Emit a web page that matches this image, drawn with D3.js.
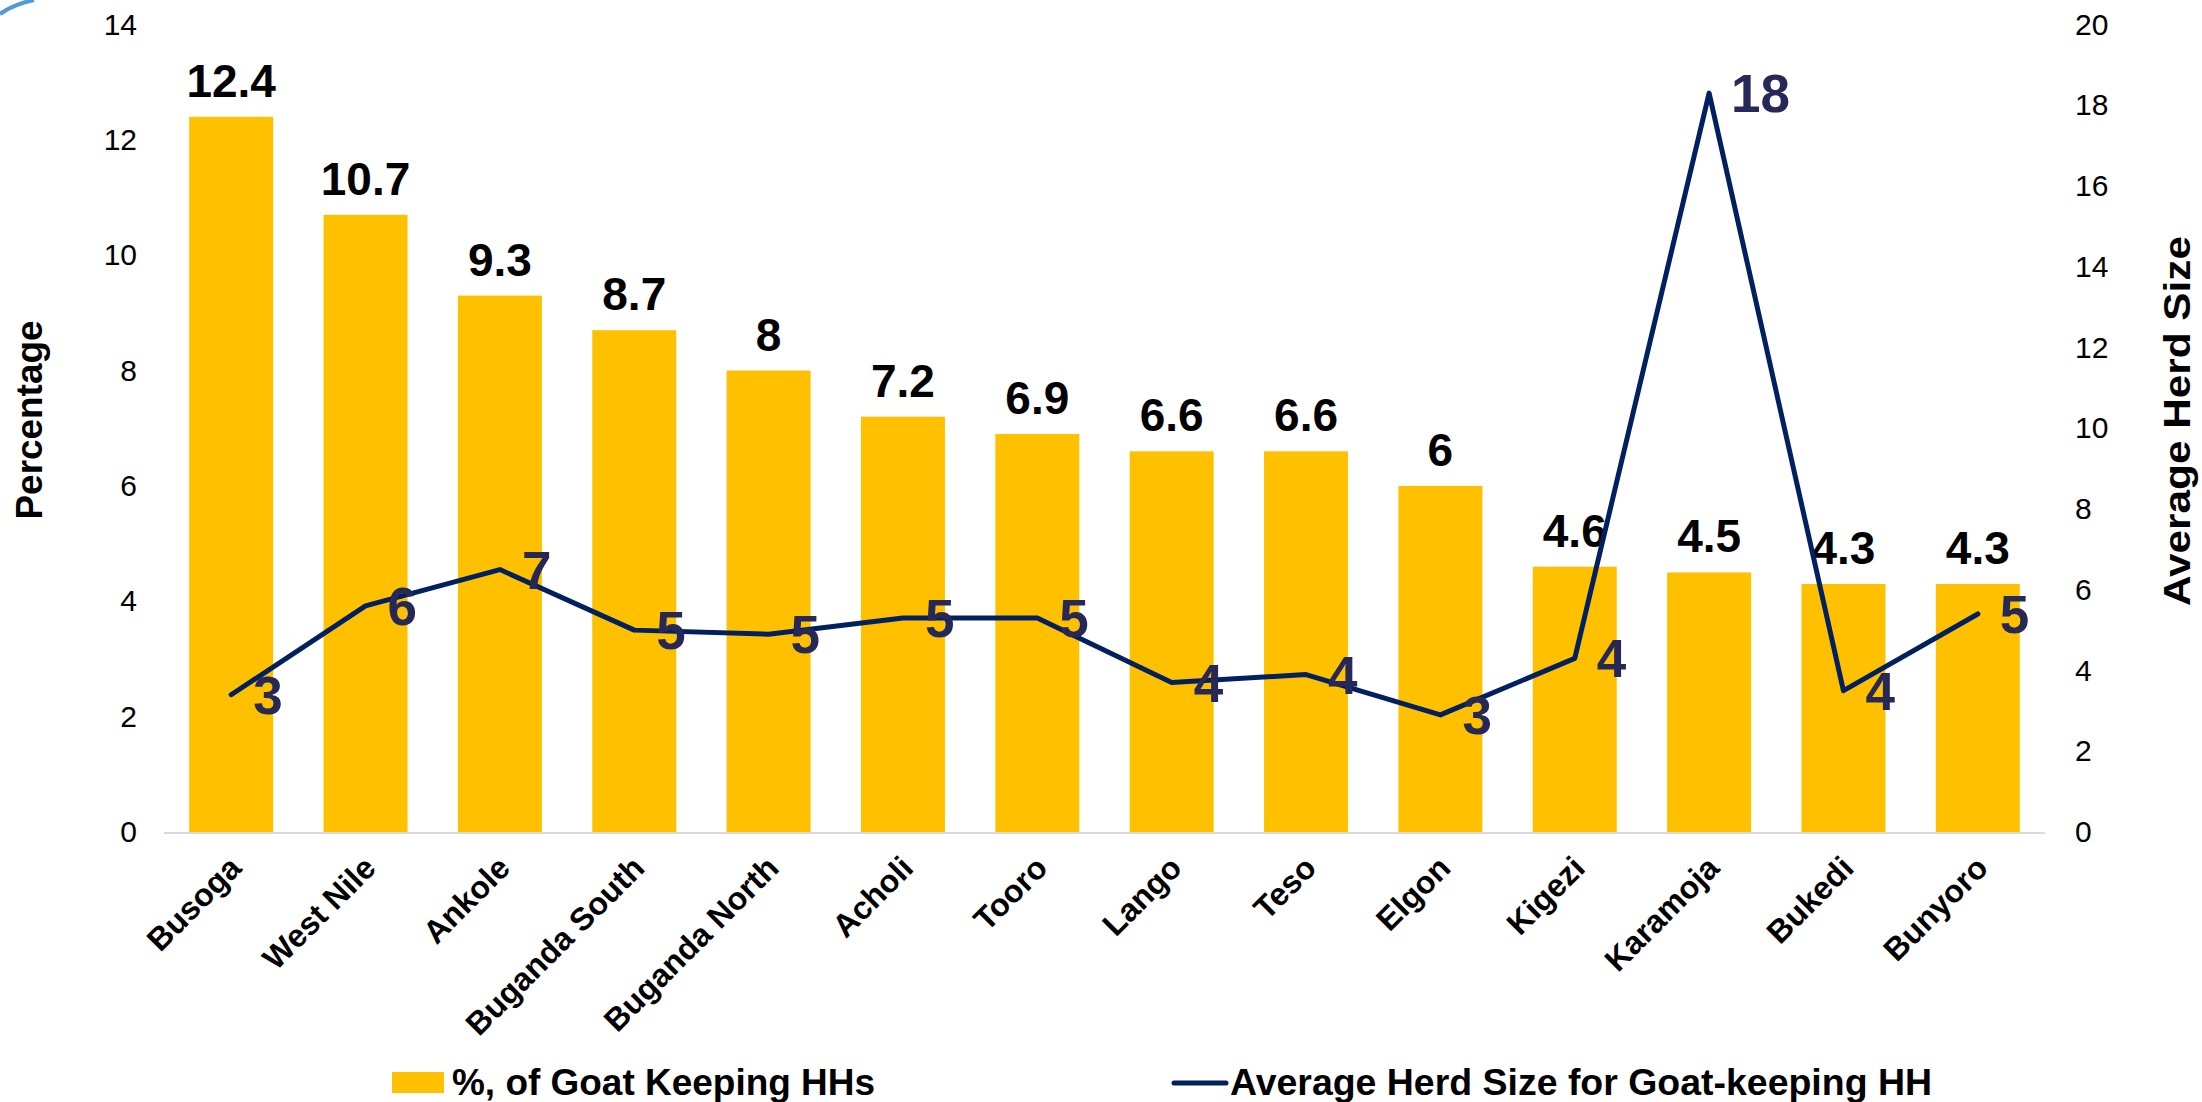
<!DOCTYPE html>
<html>
<head>
<meta charset="utf-8">
<script src="https://cdn.jsdelivr.net/npm/d3@7"></script>
<style>
  body { margin: 0; background: #fff; }
  svg text { font-family: "Liberation Sans", Arial, sans-serif; }
</style>
</head>
<body>
<svg id="chart" width="2202" height="1102"></svg>
<script>
// regions along the x axis
const regions = ['Busoga', 'West Nile', 'Ankole', 'Buganda South', 'Buganda North', 'Acholi', 'Tooro',
    'Lango', 'Teso', 'Elgon', 'Kigezi', 'Karamoja', 'Bukedi', 'Bunyoro'];
// bars: % of goat keeping households
const goatPct = [12.4, 10.7, 9.3, 8.7, 8, 7.2, 6.9, 6.6, 6.6, 6, 4.6, 4.5, 4.3, 4.3];
// line: average herd size
const herdSize = [3.4, 5.6, 6.5, 5.0, 4.9, 5.3, 5.3, 3.7, 3.9, 2.9, 4.3, 18.3, 3.5, 5.4];
const herdLabels = ['3', '6', '7', '5', '5', '5', '5', '4', '4', '3', '4', '18', '4', '5'];
const leftTicks = [0, 2, 4, 6, 8, 10, 12, 14];
const rightTicks = [0, 2, 4, 6, 8, 10, 12, 14, 16, 18, 20];
const seriesNames = ['%, of Goat Keeping HHs', 'Average Herd Size for Goat-keeping HH'];

const svg = d3.select('#chart');
const plot = {left: 164, right: 2045, top: 24.5, bottom: 832};

const x = d3.scaleBand()
    .domain(regions)
    .range([plot.left, plot.right])
    .paddingInner(0.375)
    .paddingOuter(0.1875);
const yL = d3.scaleLinear().domain([0, 14]).range([plot.bottom, plot.top]);
const yR = d3.scaleLinear().domain([0, 20]).range([plot.bottom, plot.top]);

// slide decoration in the top left corner
svg.append('path')
    .attr('d', 'M0,14 Q14,4 34,0')
    .attr('fill', 'none')
    .attr('stroke', '#4F9BD9')
    .attr('stroke-width', 4);

// left axis tick labels
svg.append('g')
    .attr('transform', `translate(137,0)`)
    .call(d3.axisLeft(yL).tickValues(leftTicks).tickSize(0).tickPadding(0))
    .call(g => g.select('.domain').remove())
    .selectAll('text')
    .attr('font-size', 30)
    .attr('fill', '#000');

// right axis tick labels
svg.append('g')
    .attr('transform', `translate(2075,0)`)
    .call(d3.axisRight(yR).tickValues(rightTicks).tickSize(0).tickPadding(0))
    .call(g => g.select('.domain').remove())
    .selectAll('text')
    .attr('font-size', 30)
    .attr('fill', '#000');

svg.selectAll('g.tick text').attr('font-family', '"Liberation Sans", Arial, sans-serif');

// axis titles
svg.append('text')
    .attr('transform', 'translate(42,420) rotate(-90)')
    .attr('text-anchor', 'middle')
    .attr('font-size', 36)
    .attr('font-weight', 'bold')
    .attr('textLength', 199)
    .attr('lengthAdjust', 'spacingAndGlyphs')
    .text('Percentage');

svg.append('text')
    .attr('transform', 'translate(2190,421) rotate(-90)')
    .attr('text-anchor', 'middle')
    .attr('font-size', 37)
    .attr('font-weight', 'bold')
    .attr('textLength', 370)
    .attr('lengthAdjust', 'spacingAndGlyphs')
    .text('Average Herd Size');

// bars
svg.append('g').selectAll('rect')
    .data(goatPct)
    .join('rect')
    .attr('x', (d, i) => x(regions[i]))
    .attr('width', x.bandwidth())
    .attr('y', d => yL(d))
    .attr('height', d => yL(0) - yL(d))
    .attr('fill', '#FFC000');

// category axis line
svg.append('line')
    .attr('x1', plot.left).attr('x2', plot.right)
    .attr('y1', plot.bottom + 1).attr('y2', plot.bottom + 1)
    .attr('stroke', '#D9D9D9')
    .attr('stroke-width', 2);

// bar value labels
svg.append('g').selectAll('text')
    .data(goatPct)
    .join('text')
    .attr('x', (d, i) => x(regions[i]) + x.bandwidth() / 2)
    .attr('y', d => yL(d) - 20)
    .attr('text-anchor', 'middle')
    .attr('font-size', 46)
    .attr('font-weight', 'bold')
    .attr('fill', '#000')
    .text(d => d);

// herd size line
const line = d3.line()
    .x((d, i) => x(regions[i]) + x.bandwidth() / 2)
    .y(d => yR(d));
svg.append('path')
    .datum(herdSize)
    .attr('d', line)
    .attr('fill', 'none')
    .attr('stroke', '#002060')
    .attr('stroke-width', 5)
    .attr('stroke-linejoin', 'round')
    .attr('stroke-linecap', 'round');

svg.append('g').selectAll('text')
    .data(herdSize)
    .join('text')
    .attr('x', (d, i) => x(regions[i]) + x.bandwidth() / 2 + 22)
    .attr('y', d => yR(d) + 19)
    .attr('font-size', 53)
    .attr('font-weight', 'bold')
    .attr('fill', '#262857')
    .text((d, i) => herdLabels[i]);

// category labels
svg.append('g').selectAll('text')
    .data(regions)
    .join('text')
    .attr('transform', d => `translate(${x(d) + x.bandwidth() / 2 + 12},${plot.bottom + 38}) rotate(-45)`)
    .attr('text-anchor', 'end')
    .attr('font-size', 32)
    .attr('font-weight', 'bold')
    .attr('fill', '#000')
    .text(d => d);

// legend
const legend = svg.append('g');
legend.append('rect')
    .attr('x', 392).attr('y', 1072)
    .attr('width', 52).attr('height', 21)
    .attr('fill', '#FFC000');
legend.append('text')
    .attr('x', 452).attr('y', 1095)
    .attr('font-size', 36)
    .attr('font-weight', 'bold')
    .attr('textLength', 423)
    .attr('lengthAdjust', 'spacingAndGlyphs')
    .text(seriesNames[0]);
legend.append('line')
    .attr('x1', 1174).attr('x2', 1226)
    .attr('y1', 1083).attr('y2', 1083)
    .attr('stroke', '#002060')
    .attr('stroke-width', 5)
    .attr('stroke-linecap', 'round');
legend.append('text')
    .attr('x', 1230).attr('y', 1095)
    .attr('font-size', 36)
    .attr('font-weight', 'bold')
    .attr('textLength', 702)
    .attr('lengthAdjust', 'spacingAndGlyphs')
    .text(seriesNames[1]);
</script>
</body>
</html>
